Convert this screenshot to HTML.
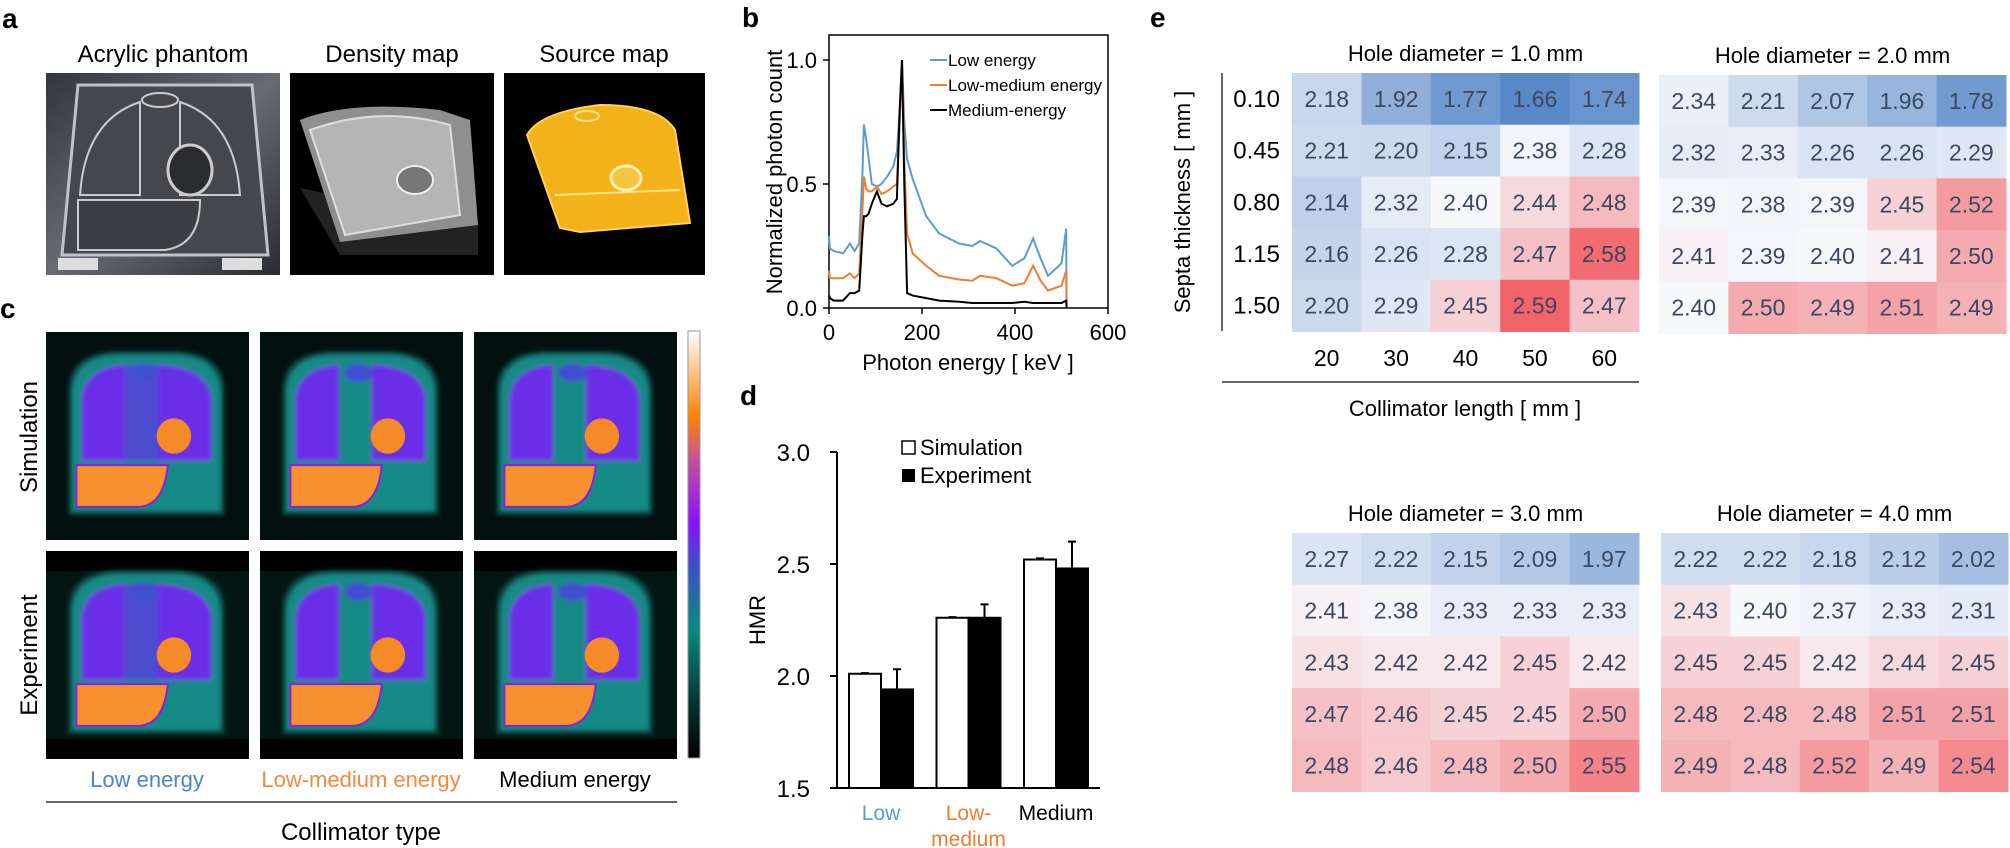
<!DOCTYPE html>
<html><head><meta charset="utf-8"><style>
html,body{margin:0;padding:0;background:#fff;}
svg{display:block;font-family:"Liberation Sans",Arial,sans-serif;}
</style></head><body>
<svg id="fig" width="2010" height="848" viewBox="0 0 2010 848" xmlns="http://www.w3.org/2000/svg">
<defs>
<linearGradient id="cbar" x1="0" y1="1" x2="0" y2="0">
<stop offset="0" stop-color="#000"/><stop offset="0.12" stop-color="#03302c"/><stop offset="0.3" stop-color="#0a8a80"/><stop offset="0.45" stop-color="#3a50c8"/><stop offset="0.55" stop-color="#8a10ff"/><stop offset="0.7" stop-color="#c8509a"/><stop offset="0.8" stop-color="#ff8200"/><stop offset="0.9" stop-color="#ffc080"/><stop offset="1" stop-color="#fff"/>
</linearGradient>
<linearGradient id="photo" x1="0" y1="0" x2="1" y2="1"><stop offset="0" stop-color="#33353c"/><stop offset="0.5" stop-color="#686b72"/><stop offset="1" stop-color="#2a2c32"/></linearGradient>
<filter id="soft" x="-10%" y="-10%" width="120%" height="120%"><feGaussianBlur stdDeviation="2"/></filter>
</defs>

<!-- Panel a -->
<g>
<text x="2" y="28" font-size="28" font-weight="bold">a</text>
<text x="163" y="62" font-size="24" text-anchor="middle">Acrylic phantom</text>
<text x="392" y="62" font-size="24" text-anchor="middle">Density map</text>
<text x="604" y="62" font-size="24" text-anchor="middle">Source map</text>
<g>
<rect x="46" y="73" width="234" height="202" fill="url(#photo)"/>
<path d="M78 85 L252 85 L268 255 L62 255 Z" fill="#45474d" stroke="#bfc3c8" stroke-width="3"/>
<path d="M80 195 Q85 120 140 102 L140 195 Z M180 102 Q235 120 240 195 L180 195 Z" fill="none" stroke="#c8ccd0" stroke-width="2"/>
<ellipse cx="160" cy="100" rx="18" ry="7" fill="none" stroke="#ccc" stroke-width="2"/>
<ellipse cx="190" cy="170" rx="22" ry="25" fill="#2a2c30" stroke="#ccc" stroke-width="3"/>
<path d="M78 200 L200 200 Q200 245 165 250 L78 250 Z" fill="#3c3e43" stroke="#ccc" stroke-width="2"/>
<rect x="58" y="258" width="40" height="12" fill="#ddd"/><rect x="222" y="258" width="40" height="12" fill="#ddd"/>
</g>
<g>
<rect x="290" y="73" width="204" height="202" fill="#000"/>
<path d="M300 188 L340 255 L478 255 L478 225 Z" fill="#222"/>
<path d="M300 120 Q350 100 440 110 L470 120 L478 225 L340 242 Z" fill="#8f8f8f"/>
<path d="M310 130 Q380 105 450 125 L460 215 L345 235 Z" fill="#b5b5b5" stroke="#ddd" stroke-width="2"/>
<ellipse cx="415" cy="180" rx="18" ry="14" fill="#777" stroke="#eee" stroke-width="2"/>
</g>
<g>
<rect x="504" y="73" width="201" height="202" fill="#000"/>
<path d="M527 135 Q540 112 600 105 Q660 105 675 130 L690 223 L580 232 L560 228 Z" fill="#f4b21a" stroke="#ffd25a" stroke-width="2"/>
<path d="M555 195 L680 190" stroke="#ffe08a" stroke-width="2"/>
<ellipse cx="626" cy="178" rx="15" ry="12" fill="#f7c640" stroke="#fff2b0" stroke-width="3"/>
<ellipse cx="587" cy="116" rx="12" ry="5" fill="none" stroke="#ffe08a" stroke-width="2"/>
</g>
</g>

<!-- Panel c -->
<g id="panelc">
<text x="0" y="318" font-size="28" font-weight="bold">c</text>
<text transform="translate(37,437) rotate(-90)" font-size="24" text-anchor="middle">Simulation</text>
<text transform="translate(37,655) rotate(-90)" font-size="24" text-anchor="middle">Experiment</text>
<rect x="688" y="331" width="12" height="427" fill="url(#cbar)" stroke="#999" stroke-width="1"/>
<text x="147" y="787" font-size="22" fill="#4a86c8" text-anchor="middle">Low energy</text>
<text x="361" y="787" font-size="22" fill="#f08a3c" text-anchor="middle">Low-medium energy</text>
<text x="575" y="787" font-size="22" fill="#000" text-anchor="middle">Medium energy</text>
<line x1="46" y1="802" x2="677" y2="802" stroke="#333" stroke-width="1.5"/>
<text x="361" y="840" font-size="24" text-anchor="middle">Collimator type</text>
</g>

<!-- Panel b -->
<g id="panelb">
<text x="742" y="27" font-size="28" font-weight="bold">b</text>
<rect x="829" y="35" width="279" height="273" fill="none" stroke="#000" stroke-width="1.5"/>
<text transform="translate(782,172) rotate(-90)" font-size="22" text-anchor="middle">Normalized photon count</text>
<text x="968" y="370" font-size="22" text-anchor="middle">Photon energy [ keV ]</text>
</g>

<!-- Panel d -->
<g id="paneld">
<text x="740" y="405" font-size="28" font-weight="bold">d</text>
<text transform="translate(765,620) rotate(-90)" font-size="22" text-anchor="middle">HMR</text>
<rect x="902" y="441" width="13" height="13" fill="#fff" stroke="#000" stroke-width="1.5"/>
<text x="920" y="455" font-size="22">Simulation</text>
<rect x="902" y="469" width="13" height="13" fill="#000"/>
<text x="920" y="483" font-size="22">Experiment</text>
</g>

<!-- Panel e -->
<g id="panele">
<text x="1150" y="27" font-size="28" font-weight="bold">e</text>
<line x1="1222" y1="73" x2="1222" y2="331" stroke="#333" stroke-width="1.5"/>
<text transform="translate(1190,202) rotate(-90)" font-size="22" text-anchor="middle">Septa  thickness [ mm ]</text>
<line x1="1222" y1="382" x2="1639" y2="382" stroke="#333" stroke-width="1.5"/>
<text x="1465" y="416" font-size="22" text-anchor="middle">Collimator length [ mm ]</text>
</g>
</svg>

<script>
// ---------- Panel b data ----------
const energyKeV = [0,2,10,30,45,55,65,72,75,80,85,92,103,113,125,138,146,152,157,162,168,180,209,237,280,308,325,360,394,420,439,455,471,500,510,511];
const lowEnergy = [0.29,0.24,0.23,0.22,0.26,0.23,0.26,0.55,0.74,0.68,0.61,0.50,0.49,0.50,0.53,0.57,0.63,0.80,1.0,0.75,0.60,0.52,0.37,0.30,0.26,0.25,0.27,0.24,0.17,0.20,0.28,0.20,0.13,0.18,0.32,0.0];
const lowMediumEnergy = [0.15,0.12,0.12,0.12,0.14,0.12,0.14,0.40,0.53,0.48,0.47,0.47,0.49,0.46,0.47,0.49,0.50,0.75,1.0,0.60,0.30,0.22,0.17,0.13,0.115,0.11,0.13,0.12,0.09,0.10,0.17,0.11,0.07,0.09,0.15,0.0];
const mediumEnergy = [0.05,0.04,0.03,0.03,0.06,0.06,0.07,0.30,0.37,0.37,0.38,0.42,0.47,0.42,0.41,0.42,0.44,0.80,1.0,0.50,0.06,0.05,0.04,0.03,0.025,0.02,0.02,0.02,0.02,0.025,0.02,0.02,0.02,0.02,0.03,0.0];
const bXTicks = [0,200,400,600];
const bYTicks = ["0.0","0.5","1.0"];
const bLegend = ["Low energy","Low-medium energy","Medium-energy"];

// ---------- Panel d data ----------
const dCategories = ["Low","Low-\nmedium","Medium"];
const dSimulation = [2.01,2.26,2.52];
const dSimErr = [0.003,0.003,0.005];
const dExperiment = [1.94,2.26,2.48];
const dExpErr = [0.09,0.06,0.12];
const dYTicks = ["1.5","2.0","2.5","3.0"];

// ---------- Panel e data ----------
const collimatorLengths = [20,30,40,50,60];
const septaThickness = ["0.10","0.45","0.80","1.15","1.50"];
const holeTitles = ["Hole diameter = 1.0 mm","Hole diameter = 2.0 mm","Hole diameter = 3.0 mm","Hole diameter = 4.0 mm"];
const hmr1 = [[2.18,1.92,1.77,1.66,1.74],[2.21,2.20,2.15,2.38,2.28],[2.14,2.32,2.40,2.44,2.48],[2.16,2.26,2.28,2.47,2.58],[2.20,2.29,2.45,2.59,2.47]];
const hmr2 = [[2.34,2.21,2.07,1.96,1.78],[2.32,2.33,2.26,2.26,2.29],[2.39,2.38,2.39,2.45,2.52],[2.41,2.39,2.40,2.41,2.50],[2.40,2.50,2.49,2.51,2.49]];
const hmr3 = [[2.27,2.22,2.15,2.09,1.97],[2.41,2.38,2.33,2.33,2.33],[2.43,2.42,2.42,2.45,2.42],[2.47,2.46,2.45,2.45,2.50],[2.48,2.46,2.48,2.50,2.55]];
const hmr4 = [[2.22,2.22,2.18,2.12,2.02],[2.43,2.40,2.37,2.33,2.31],[2.45,2.45,2.42,2.44,2.45],[2.48,2.48,2.48,2.51,2.51],[2.49,2.48,2.52,2.49,2.54]];

const NS = "http://www.w3.org/2000/svg";
function mk(tag, attrs, parent){ const e=document.createElementNS(NS,tag); for(const k in attrs) e.setAttribute(k,attrs[k]); parent.appendChild(e); return e; }

// ----- Panel c images -----
(function(){
  const pc = document.getElementById('panelc');
  const cols=[46,260,474], rows=[332,551], W=203, H=208;
  rows.forEach((y0,ri)=>cols.forEach((x0,ci)=>{
    const g = mk('g',{},pc);
    
    
    mk('rect',{x:x0,y:y0,width:W,height:H,fill:ri===0?'#02100f':'#041614'},g);
    if(ri===1){ mk('rect',{x:x0,y:y0,width:W,height:20,fill:'#000'},g); mk('rect',{x:x0,y:y0+H-20,width:W,height:20,fill:'#000'},g); }
    const L=x0+W*0.13, R=x0+W*0.86, T=y0+H*0.11, B=y0+H*0.86;
    const inner = mk('g',{filter:'url(#soft)'},g);
    mk('path',{d:`M${L-4} ${B+4} L${L-4} ${T+36} Q${L-4} ${T-4} ${L+50} ${T-4} L${R-50} ${T-4} Q${R+4} ${T-4} ${R+4} ${T+36} L${R+4} ${B+4} Z`,fill:'#0b4a46'},inner);
    mk('path',{d:`M${L} ${B} L${L} ${T+40} Q${L} ${T} ${L+50} ${T} L${R-50} ${T} Q${R} ${T} ${R} ${T+40} L${R} ${B} Z`,fill:'#148a85'},inner);
    const mL=x0+W*0.39, mR=x0+W*0.55, pB=y0+H*0.62;
    mk('path',{d:`M${L+9} ${pB} L${L+9} ${T+42} Q${L+14} ${T+12} ${mL} ${T+10} L${mL} ${pB} Z`,fill:'#6a2ee8'},inner);
    mk('path',{d:`M${mR} ${pB} L${mR} ${T+10} Q${R-14} ${T+12} ${R-9} ${T+42} L${R-9} ${pB} Z`,fill:'#6a2ee8'},inner);
    if(ci===0) mk('rect',{x:mL,y:T+10,width:mR-mL,height:pB-T-10,fill:'#5a3ee0',opacity:0.8},inner);
    mk('ellipse',{cx:x0+W*0.485,cy:T+18,rx:W*0.07,ry:H*0.045,fill:'#3f4fd0'},inner);
    mk('ellipse',{cx:x0+W*0.63,cy:y0+H*0.5,rx:W*0.085,ry:H*0.085,fill:'#f58a28'},g);
    mk('path',{d:`M${L+4} ${y0+H*0.64} L${x0+W*0.6} ${y0+H*0.64} Q${x0+W*0.58} ${B-4} ${x0+W*0.45} ${B-4} L${L+4} ${B-4} Z`,fill:'#f7902e',stroke:'#8a20e0','stroke-width':2},g);
  }));
})();

// ----- Panel b chart -----
(function(){
  const pb=document.getElementById('panelb');
  const x=v=>829+v*0.465, y=v=>308-v*248;
  bXTicks.forEach(t=>{
    const l=mk('line',{x1:x(t),y1:308,x2:x(t),y2:314,stroke:'#000','stroke-width':1.5},pb);
    
    
    const tx=mk('text',{x:x(t),y:340,'font-size':22,'text-anchor':'middle'},pb); tx.textContent=t;
    
    
  });
  bYTicks.forEach(t=>{
    const v=parseFloat(t);
    const l=mk('line',{x1:823,y1:y(v),x2:829,y2:y(v),stroke:'#000','stroke-width':1.5},pb);
    
    
    const tx=mk('text',{x:817,y:y(v)+8,'font-size':22,'text-anchor':'end'},pb); tx.textContent=t;
    
    
  });
  const series=[lowEnergy,lowMediumEnergy,mediumEnergy], colors=['#5b9bd5','#ed7d31','#000'], names=['low-energy-line','low-medium-energy-line','medium-energy-line'];
  series.forEach((s,i)=>{
    const p=mk('path',{d:s.map((v,j)=>(j?'L':'M')+x(energyKeV[j]).toFixed(1)+' '+y(v).toFixed(1)).join(' '),fill:'none',stroke:colors[i],'stroke-width':2},pb);
    
    
    const ly=60+i*25;
    const ll=mk('line',{x1:930,y1:ly,x2:947,y2:ly,stroke:colors[i],'stroke-width':2},pb);
    
    
    const lt=mk('text',{x:948,y:ly+6,'font-size':17},pb); lt.textContent=bLegend[i];
    
    
  });
})();

// ----- Panel d chart -----
(function(){
  const pd=document.getElementById('paneld');
  const y=v=>788-(v-1.5)*224;
  const centers=[881,968.5,1056], bw=32;
  const ya=mk('line',{x1:837,y1:452,x2:837,y2:788,stroke:'#000','stroke-width':2},pd);
  
  
  const xa=mk('line',{x1:830,y1:788,x2:1100,y2:788,stroke:'#000','stroke-width':2},pd);
  
  
  dYTicks.forEach(t=>{
    const v=parseFloat(t);
    const l=mk('line',{x1:830,y1:y(v),x2:837,y2:y(v),stroke:'#000','stroke-width':2},pd);
    
    
    const tx=mk('text',{x:810,y:y(v)+9,'font-size':24,'text-anchor':'end'},pd); tx.textContent=t;
    
    
  });
  const catColors=['#5b9bd5','#ed7d31','#000'];
  dCategories.forEach((c,i)=>{
    const cx=centers[i];
    [[dSimulation,dSimErr,'#fff','simulation'],[dExperiment,dExpErr,'#000','experiment']].forEach((s,k)=>{
      const v=s[0][i], e=s[1][i], bx=cx-bw+k*bw;
      const r=mk('rect',{x:bx,y:y(v),width:bw,height:788-y(v),fill:s[2],stroke:'#000','stroke-width':2},pd);
      
      
      const ex=bx+bw/2;
      const el=mk('path',{d:`M${ex} ${y(v)} L${ex} ${y(v+e)} M${ex-4} ${y(v+e)} L${ex+4} ${y(v+e)}`,stroke:'#000','stroke-width':2,fill:'none'},pd);
      
      
    });
    c.split('\n').forEach((ln,j)=>{
      const t=mk('text',{x:cx,y:820+j*26,'font-size':21,'text-anchor':'middle',fill:catColors[i]},pd); t.textContent=ln;
      
      
    });
  });
})();

// ----- Panel e heatmaps -----
(function(){
  const pe=document.getElementById('panele');
  function color(v){
    const w=[247,248,252], b=[88,136,200], r=[242,100,105];
    let t,c;
    if(v<2.40){ t=Math.min(1,(2.40-v)/(2.40-1.66)); c=b; } else { t=Math.min(1,(v-2.40)/(2.59-2.40)); c=r; }
    return 'rgb('+w.map((x,i)=>Math.round(x+(c[i]-x)*t)).join(',')+')';
  }
  const maps=[hmr1,hmr2,hmr3,hmr4];
  const origins=[[1292,73],[1659,75],[1292,533],[1661,533]];
  const cw=69.4, ch=51.7;
  maps.forEach((m,k)=>{
    const [ox,oy]=origins[k];
    const tt=mk('text',{x:ox+cw*2.5,y:oy-12,'font-size':22,'text-anchor':'middle'},pe); tt.textContent=holeTitles[k];
    
    
    m.forEach((row,ri)=>row.forEach((v,ci)=>{
      const r=mk('rect',{x:ox+ci*cw,y:oy+ri*ch,width:cw+0.5,height:ch+0.5,fill:color(v)},pe);
      
      
      const t=mk('text',{x:ox+ci*cw+cw/2,y:oy+ri*ch+ch/2+8,'font-size':23,'text-anchor':'middle',fill:'#3b4860'},pe); t.textContent=v.toFixed(2);
      
      
    }));
  });
  septaThickness.forEach((s,i)=>{
    const t=mk('text',{x:1280,y:73+i*ch+ch/2+8,'font-size':24,'text-anchor':'end'},pe); t.textContent=s;
    
    
  });
  collimatorLengths.forEach((c,i)=>{
    const t=mk('text',{x:1292+i*cw+cw/2,y:366,'font-size':23,'text-anchor':'middle'},pe); t.textContent=c;
    
    
  });
})();
</script>
</body></html>
